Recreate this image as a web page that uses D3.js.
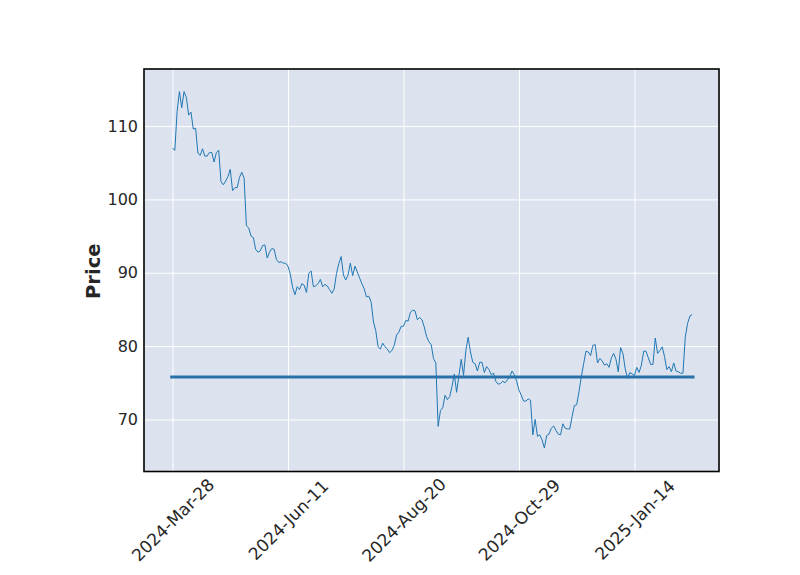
<!DOCTYPE html>
<html>
<head>
<meta charset="utf-8">
<script src="https://cdn.jsdelivr.net/npm/d3@7"></script>
<style>
  html, body { margin: 0; padding: 0; background: #ffffff; }
  svg { display: block; }
</style>
</head>
<body>
<svg id="chart" width="800" height="575"></svg>
<script>
// ---- data ----
const prices = [
  106.95, 106.7, 112.0, 114.7, 112.5, 114.7, 113.9, 111.5, 111.9, 109.6,
  109.7, 106.3, 106.0, 106.9, 105.9, 105.9, 106.4, 106.4, 105.1, 106.4,
  106.7, 102.4, 102.0, 102.5, 103.1, 104.1, 101.2, 101.6, 101.6, 103.0,
  103.7, 102.9, 96.4, 96.1, 95.0, 94.8, 93.2, 92.8, 93.0, 93.7,
  93.8, 92.0, 92.8, 93.3, 93.2, 91.8, 91.4, 91.5, 91.3, 91.3,
  90.9, 89.8, 88.0, 87.0, 88.1, 87.7, 88.5, 88.3, 87.3, 89.9,
  90.25, 88.1, 88.2, 88.5, 89.1, 88.1, 88.4, 88.2, 87.7, 87.2,
  87.8, 89.9, 91.25, 92.2, 89.7, 89.0, 89.7, 91.3, 89.6, 90.9,
  90.1, 89.3, 88.5, 87.8, 86.7, 86.8, 86.0, 83.3, 82.1, 79.9,
  79.6, 80.4, 79.9, 79.6, 79.1, 79.4, 80.1, 81.5, 81.9, 82.7,
  82.7, 83.5, 83.4, 84.6, 84.9, 84.8, 83.6, 83.9, 83.6, 82.6,
  81.3, 80.6, 80.2, 78.3, 77.7, 69.05, 71.2, 71.6, 73.3, 72.7,
  73.1, 74.5, 76.2, 73.7, 76.0, 78.2, 76.0, 79.4, 81.2, 79.2,
  77.8, 77.6, 76.6, 77.8, 77.8, 76.4, 77.2, 76.8, 76.1, 76.3,
  75.2, 74.8, 74.9, 75.2, 75.0, 75.4, 75.8, 76.6, 76.1, 75.2,
  74.0, 73.3, 72.5, 72.5, 72.8, 72.6, 67.9, 70.0, 67.7, 67.9,
  67.2, 66.1, 67.8, 68.0, 68.8, 69.1, 68.5, 68.0, 67.9, 69.4,
  68.8, 68.7, 68.7, 70.4, 71.9, 72.0, 73.8, 75.8, 77.6, 79.3,
  79.2, 78.7, 80.1, 80.2, 77.7, 78.3, 78.0, 77.4, 77.6, 77.1,
  78.4, 79.0, 78.2, 76.5, 79.8, 79.0, 76.9, 75.6, 76.4, 76.2,
  76.0, 77.1, 76.4, 77.4, 79.3, 79.3, 78.4, 77.5, 77.5, 81.1,
  79.0, 79.4, 79.9, 78.6, 76.8, 77.2, 76.5, 77.7, 76.6, 76.5,
  76.3, 76.3, 81.2, 83.1, 84.1, 84.3
];
const hlineValue = 75.8;
const xTickIndex = [0, 50, 100, 150, 200];
const xTickLabels = ["2024-Mar-28", "2024-Jun-11", "2024-Aug-20", "2024-Oct-29", "2025-Jan-14"];
const yTicks = [70, 80, 90, 100, 110];
const yLabel = "Price";

// ---- layout ----
const svg = d3.select("#chart");
const pL = 144, pR = 719, pT = 69, pB = 471.5;
const N = prices.length;

const x = d3.scaleLinear().domain([-12.34, 236.6]).range([pL, pR]);
const y = d3.scaleLinear().domain([62.9, 117.78]).range([pB, pT]);

// axes background
svg.append("rect")
  .attr("x", pL).attr("y", pT)
  .attr("width", pR - pL).attr("height", pB - pT)
  .attr("fill", "#DCE3EF");

// grid + y axis
const yAxis = d3.axisLeft(y).tickValues(yTicks).tickSize(-(pR - pL)).tickPadding(6).tickFormat(d3.format("d"));
const gy = svg.append("g").attr("transform", `translate(${pL},0)`).call(yAxis);
gy.select(".domain").remove();
gy.selectAll(".tick line").attr("stroke", "#ffffff").attr("stroke-width", 1);
gy.selectAll(".tick text")
  .attr("font-family", "DejaVu Sans, sans-serif")
  .attr("font-size", 16)
  .attr("fill", "#262626");

// grid + x axis
const xAxis = d3.axisBottom(x).tickValues(xTickIndex).tickSize(-(pB - pT)).tickFormat((d, i) => xTickLabels[i]);
const gx = svg.append("g").attr("transform", `translate(0,${pB})`).call(xAxis);
gx.select(".domain").remove();
gx.selectAll(".tick line").attr("stroke", "#ffffff").attr("stroke-width", 1);
gx.selectAll(".tick text")
  .attr("font-family", "DejaVu Sans, sans-serif")
  .attr("font-size", 17)
  .attr("fill", "#262626")
  .attr("text-anchor", "middle")
  .attr("dy", "0.35em")
  .attr("y", 0)
  .attr("transform", "translate(0,48.5) rotate(-45)");

// horizontal line
svg.append("line")
  .attr("x1", x(-1)).attr("x2", x(N))
  .attr("y1", y(hlineValue)).attr("y2", y(hlineValue))
  .attr("stroke", "#2a70a8")
  .attr("stroke-width", 3);

// price line
const line = d3.line().x((d, i) => x(i)).y(d => y(d));
svg.append("path")
  .datum(prices)
  .attr("d", line)
  .attr("fill", "none")
  .attr("stroke", "#1f77b4")
  .attr("stroke-width", 1)
  .attr("stroke-linejoin", "round");

// frame
svg.append("rect")
  .attr("x", pL).attr("y", pT)
  .attr("width", pR - pL).attr("height", pB - pT)
  .attr("fill", "none")
  .attr("stroke", "#000000")
  .attr("stroke-width", 1.6);

// y label
svg.append("text")
  .attr("transform", `translate(100,${(pT + pB) / 2 + 1}) rotate(-90)`)
  .attr("text-anchor", "middle")
  .attr("font-family", "DejaVu Sans, sans-serif")
  .attr("font-weight", "bold")
  .attr("font-size", 19.5)
  .attr("fill", "#262626")
  .text(yLabel);
</script>
</body>
</html>
